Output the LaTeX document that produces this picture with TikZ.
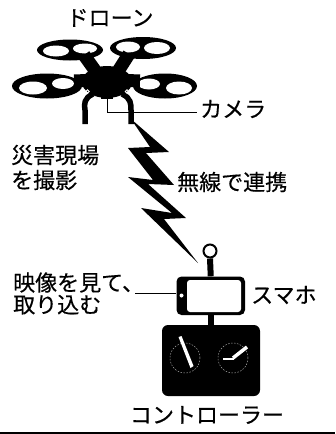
\documentclass[tikz,border=0pt]{standalone}
\usepackage{fontspec}
\newfontfamily\jp[FakeBold=0.4]{Noto Sans CJK JP}
\usetikzlibrary{calc}
\begin{document}
\begin{tikzpicture}[x=1pt,y=-1pt,
  lbl/.style={inner sep=0pt, font=\jp\fontsize{22pt}{25pt}\selectfont},
  leader/.style={line width=1pt},
  patch/.style={fill=white},
  arm/.style={line width=13pt},
  gear/.style={line width=5.5pt},
  stem/.style={line width=6pt},
  stick/.style={draw=white, line width=3.5pt},
  dial/.style={draw=gray!70, line width=0.5pt, dash pattern=on 1.5pt off 1.5pt}]
\useasboundingbox (0,0) rectangle (335,434);

% ---- drone ----
% rotors: black rings with a blade across the hub
\fill (70,50) ellipse [x radius=33pt, y radius=10.5pt];
\fill[patch] (56,51) ellipse [x radius=13pt, y radius=5.5pt];
\fill[patch] (85,48.5) ellipse [x radius=12pt, y radius=5pt];
\fill (143,48) ellipse [x radius=33pt, y radius=11pt];
\fill[patch] (128,47) ellipse [x radius=12pt, y radius=5.5pt];
\fill[patch] (157,48) ellipse [x radius=13pt, y radius=6pt];
\fill (47,86) ellipse [x radius=35pt, y radius=12.5pt];
\fill[patch] (33,88) ellipse [x radius=14pt, y radius=6.5pt];
\fill[patch] (63,83.5) ellipse [x radius=11pt, y radius=5.5pt];
\fill (165,86) ellipse [x radius=32pt, y radius=12.5pt];
\fill[patch] (149,84) ellipse [x radius=11pt, y radius=5.5pt];
\fill[patch] (179,88) ellipse [x radius=13pt, y radius=6.5pt];
% arms and body
\draw[arm] (99,76) -- (84,55);
\draw[arm] (115,76) -- (129,54);
\draw[arm] (100,80) -- (74,81);
\draw[arm] (114,80) -- (140,81);
\fill (107,82) ellipse [x radius=25pt, y radius=16pt];
\fill (101,95) rectangle (113,99);
% landing gear with small lamps at its roots
\draw[gear] (93,94) .. controls (84,98) and (84,104) .. (85,110) -- (85,124);
\draw[gear] (122,94) .. controls (131,98) and (131,104) .. (131,110) -- (131,124);
\draw[white, line width=0.8pt] (87.5,91.5) circle [radius=1.8pt];
\draw[white, line width=0.8pt] (127,91.5) circle [radius=1.8pt];
\coordinate (camtip) at (107,99);

% ---- labels ----
\node[lbl] (drone) at (110,18) {ドローン};
\node[lbl, anchor=west] (kamera) at (200,109) {カメラ};
\node[lbl, anchor=west, align=left] (saigai) at (11,167.5) {災害現場\\を撮影};
\node[lbl, anchor=west] (musen) at (177,182) {無線で連携};
\node[lbl, anchor=west, align=left, font=\jp\fontsize{22pt}{22pt}\selectfont] (eizo) at (13,293.5) {映像を見て、\\取り込む};
\node[lbl, anchor=west] (sumaho) at (251,295) {スマホ};
\node[lbl] (control) at (207,415) {コントローラー};

\draw[leader] (camtip) |- ([xshift=-3pt,yshift=-3.5pt]kamera.west);

% ---- radio link: zigzag bolt ----
\fill (131,119) -- (169,152) -- (146,153) -- (174,185) -- (148,184)
  -- (186,218) -- (164,219) -- (198,263) -- (141,208) -- (172,213)
  -- (128,177) -- (153,180) -- (128,148) -- (150,147) -- cycle;

% ---- smartphone on the controller ----
\node[draw, line width=2pt, fill=white, circle, minimum size=13pt, inner sep=0pt] (ant) at (210,251) {};
\node[fill=black, rounded corners=5pt, minimum width=68.5pt, minimum height=38.5pt, inner sep=0pt] (phone) at (210.75,295.75) {};
\node[fill=white, rounded corners=3pt, minimum width=54pt, minimum height=32pt, inner sep=0pt] (screen) at (214,296) {};
\fill[white] (181.5,295.5) circle [radius=2pt];
\node[fill=black, rounded corners=6pt, minimum width=98pt, minimum height=71pt, inner sep=0pt] (ctrl) at (211,360.5) {};
\draw[stem] (ant.south) -- (phone.north);
\draw[stem] ([xshift=0.5pt]phone.south) -- ([xshift=0.25pt]ctrl.north);

% joysticks
\draw[dial] (185,358) circle [radius=15pt];
\draw[dial] (233,358) circle [radius=15pt];
\fill[white] (178.5,337) -- (181.5,336) -- (193.5,366) -- (190.5,368) -- cycle;
\draw[draw=white, line width=2pt] (223,359) -- (234,359);
\draw[stick] (233,358) -- (247,347);

\draw[leader] ([xshift=-9pt]eizo.east) -- (eizo.east -| phone.west);

% ---- bottom rule ----
\draw[line width=2pt] (0,432.5) -- (335,432.5);
\end{tikzpicture}
\end{document}
